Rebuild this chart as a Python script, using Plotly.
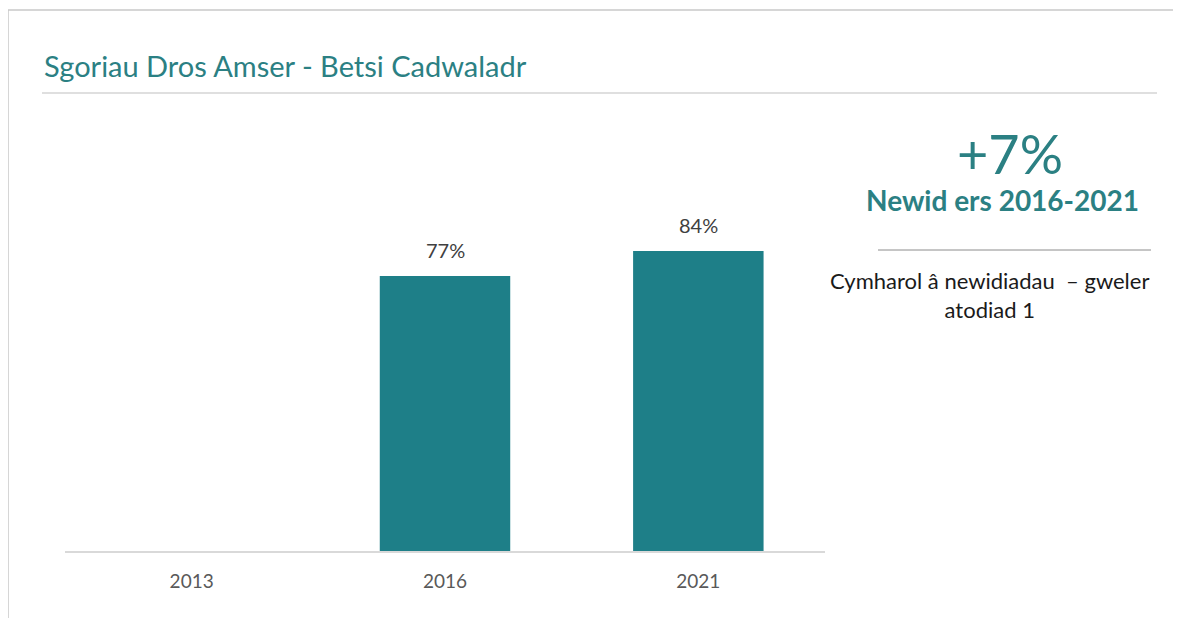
import plotly.graph_objects as go

years = ["2013", "2016", "2021"]
scores = [None, 77, 84]
labels = ["", "77%", "84%"]

TEAL = "#1e7f88"
TITLE_TEAL = "#2b8083"
FONT = "Lato"

W, H = 1181, 618
OFF = 8  # page body margin offset
SL, SR, ST, SB = 65, 825, 194, 551
L, R, T, B = SL - OFF, SR - OFF, ST - OFF, SB - OFF

def px(x):
    return (x - SL) / (SR - SL)

def py(y):
    return (SB - y) / (SB - ST)

fig = go.Figure()
fig.add_trace(go.Bar(
    x=years, y=scores, marker_color=TEAL, marker_line_width=0,
    width=0.515, hoverinfo="skip",
))

shapes = [
    dict(type="line", xref="paper", yref="paper", x0=px(8), x1=px(1200), y0=py(10), y1=py(10),
         line=dict(color="#c8c8c8", width=1.5)),
    dict(type="line", xref="paper", yref="paper", x0=px(8), x1=px(8), y0=py(10), y1=py(640),
         line=dict(color="#c8c8c8", width=1.5)),
    dict(type="line", xref="paper", yref="paper", x0=px(42), x1=px(1157), y0=py(93), y1=py(93),
         line=dict(color="#bfbfbf", width=1)),
    dict(type="line", xref="paper", yref="paper", x0=px(878), x1=px(1151), y0=py(250), y1=py(250),
         line=dict(color="#8c8c8c", width=1)),
]

annotations = [
    dict(text="Sgoriau Dros Amser - Betsi Cadwaladr", xref="paper", yref="paper",
         x=px(42), y=py(66), xanchor="left", yanchor="middle", showarrow=False,
         font=dict(family=FONT, size=29, color=TITLE_TEAL)),
    dict(text="+7%", xref="paper", yref="paper", x=px(1010), y=py(153),
         xanchor="center", yanchor="middle", showarrow=False,
         font=dict(family=FONT, size=54, color=TITLE_TEAL)),
    dict(text="<b>Newid ers 2016-2021</b>", xref="paper", yref="paper", x=px(1002), y=py(200),
         xanchor="center", yanchor="middle", showarrow=False,
         font=dict(family=FONT, size=28, color=TITLE_TEAL)),
    dict(text="Cymharol â newidiadau  – gweler<br>atodiad 1", xref="paper", yref="paper",
         x=px(989), y=py(295), xanchor="center", yanchor="middle", showarrow=False,
         align="center", font=dict(family=FONT, size=22, color="#1a1a1a")),
]

for i, (yr, v, lab) in enumerate(zip(years, scores, labels)):
    if v is None:
        continue
    annotations.append(dict(text=lab, x=i, y=v, xref="x", yref="y",
                            xanchor="center", yanchor="bottom", yshift=12, showarrow=False,
                            font=dict(family=FONT, size=20, color="#404040")))

fig.update_layout(
    width=W, height=H,
    margin=dict(l=L, r=W - R, t=T, b=H - B, pad=0),
    paper_bgcolor="white", plot_bgcolor="white",
    showlegend=False,
    bargap=0.485,
    shapes=shapes,
    annotations=annotations,
    xaxis=dict(type="category", categoryorder="array", categoryarray=years,
               range=[-0.5, len(years) - 0.5],
               showline=True, linecolor="#d9d9d9", linewidth=2,
               ticks="", ticklabelstandoff=12,
               tickfont=dict(family=FONT, size=19, color="#595959"),
               showgrid=False, zeroline=False),
    yaxis=dict(range=[0, 100], visible=False, showgrid=False, zeroline=False),
)

fig.write_html("out.html")
